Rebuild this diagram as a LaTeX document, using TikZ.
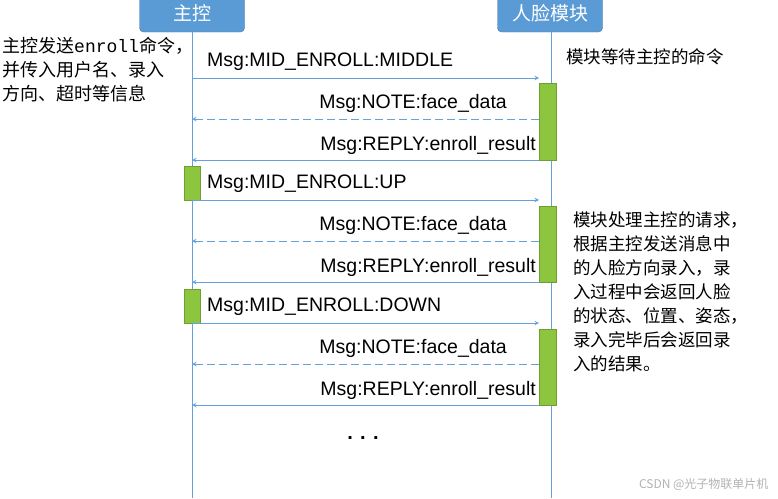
\documentclass[tikz,border=0pt]{standalone}
\usepackage{fontspec}
\setmainfont{Liberation Sans}
\setmonofont{Liberation Mono}
\newfontfamily\cjk{Noto Sans CJK SC}
\usetikzlibrary{positioning}
\definecolor{headblue}{RGB}{91,155,213}
\definecolor{lineblue}{RGB}{100,160,220}
\definecolor{actgreen}{RGB}{140,198,63}
\tikzset{
  head/.style={fill=headblue,draw=headblue!80!black,rounded corners=4pt,minimum width=105pt,minimum height=38pt,text=white,font=\cjk\fontsize{19}{19}\selectfont},
  life/.style={lineblue,line width=1pt},
  msg/.style={lineblue,line width=1pt,->,>=stealth},
  ret/.style={msg,dashed,dash pattern=on 8pt off 4pt},
  actbar/.style={fill=actgreen,draw=actgreen!80!black,line width=0.4pt},
  lbl/.style={font=\fontsize{19.5}{19.5}\selectfont,inner sep=0pt},
  note/.style={font=\cjk\fontsize{17.5}{24}\selectfont,align=left,inner sep=0pt,anchor=north west}
}
\begin{document}
\begin{tikzpicture}[x=1pt,y=-1pt]
\useasboundingbox (0,0) rectangle (778,498);
\node[head] (host) at (192,13) {主控};
\node[head] (face) at (550,13) {人脸模块};
\coordinate (hostend) at (192,498);
\coordinate (faceend) at (551,498);
\draw[life] (host.south) -- (hostend);
\draw[life] ([xshift=1pt]face.south) -- (faceend);
% activation bars
\foreach \t/\b in {83/160,206/282,329/405}
  \draw[actbar] (539,\t) rectangle (556,\b);
\foreach \t/\b in {166/200,289/323}
  \draw[actbar] (184,\t) rectangle (200,\b);
% messages, one round per direction
\foreach \y/\dir in {78/MIDDLE,200/UP,323/DOWN}{
  \coordinate (a\y) at (192,\y);
  \coordinate (b\y) at (539,\y);
  \draw[msg] (a\y) -- (b\y);
  \node[lbl,anchor=base west] at (207,\y-12) {Msg:MID\_ENROLL:\dir};
}
\foreach \y in {119,241,364}{
  \coordinate (c\y) at (539,\y);
  \coordinate (d\y) at (192,\y);
  \draw[ret] (c\y) -- (d\y);
  \node[lbl,anchor=base east] at (507,\y-11) {Msg:NOTE:face\_data};
}
\foreach \y in {160,282,405}{
  \coordinate (e\y) at (539,\y);
  \coordinate (f\y) at (192,\y);
  \draw[msg] (e\y) -- (f\y);
  \node[lbl,anchor=base east] at (536,\y-10) {Msg:REPLY:enroll\_result};
}
\node[font=\bfseries\fontsize{20}{20}\selectfont] (dots) at (363,438) {. . .};
% side notes
\node[note,font=\cjk\fontsize{18}{24}\selectfont] (hostnote) at (2,37) {主控发送{\ttfamily enroll}命令，\\并传入用户名、录入\\方向、超时等信息};
\node[note] (waitnote) at (566,48) {模块等待主控的命令};
\node[note] (worknote) at (573,212) {模块处理主控的请求，\\根据主控发送消息中\\的人脸方向录入，录\\入过程中会返回人脸\\的状态、位置、姿态，\\录入完毕后会返回录\\入的结果。};
\node[font=\cjk\fontsize{12}{12}\selectfont,text=gray!60,anchor=south east] (mark) at (772,494) {CSDN @光子物联单片机};
\end{tikzpicture}
\end{document}
